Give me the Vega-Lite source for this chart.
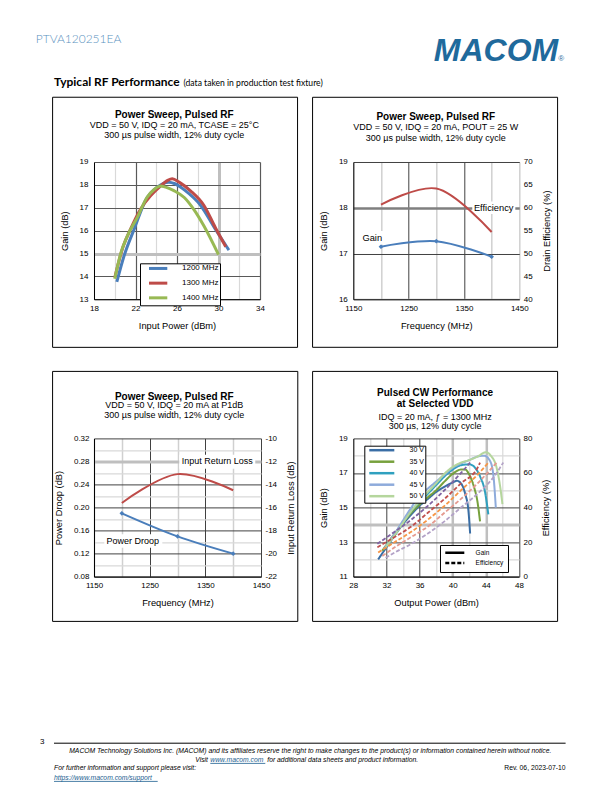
{
"$schema":"https://vega.github.io/schema/vega-lite/v6.json",
"padding":{"left":35,"top":22.6,"right":0,"bottom":0},
"background":"white",
"config":{"font":"Liberation Sans","view":{"stroke":null},
"axis":{"labelFont":"Liberation Sans","labelFontSize":8,"labelColor":"#000","titleFont":"Liberation Sans","titleFontSize":9.3,"titleFontWeight":"normal","titleColor":"#000","ticks":false,"tickSize":0,"tickCount":100,"domainColor":"#000","domainWidth":1,"labelPadding":5,"labelFlush":false,"labelOverlap":false,"labelBound":false,"gridColor":"#d9d9d9"},
"axisY":{"titlePadding":10},"axisX":{"titlePadding":9},
"legend":{"labelFont":"Liberation Sans","labelColor":"#000"},
"text":{"font":"Liberation Sans","color":"#000"}},
"datasets":{
"p1":[
{"f":"1200 MHz","p":20.2,"g":13.76},{"f":"1200 MHz","p":20.9,"g":14.9},{"f":"1200 MHz","p":21.9,"g":16.1},{"f":"1200 MHz","p":23.0,"g":17.35},{"f":"1200 MHz","p":24.1,"g":17.9},{"f":"1200 MHz","p":25.2,"g":18.12},{"f":"1200 MHz","p":25.8,"g":18.05},{"f":"1200 MHz","p":26.8,"g":17.75},{"f":"1200 MHz","p":28.25,"g":17.12},{"f":"1200 MHz","p":29.7,"g":16.06},{"f":"1200 MHz","p":31.0,"g":15.15},
{"f":"1300 MHz","p":20.0,"g":13.95},{"f":"1300 MHz","p":20.8,"g":15.3},{"f":"1300 MHz","p":21.5,"g":16.05},{"f":"1300 MHz","p":22.5,"g":16.95},{"f":"1300 MHz","p":23.45,"g":17.52},{"f":"1300 MHz","p":24.3,"g":17.9},{"f":"1300 MHz","p":25.1,"g":18.2},{"f":"1300 MHz","p":25.55,"g":18.27},{"f":"1300 MHz","p":26.2,"g":18.12},{"f":"1300 MHz","p":27.3,"g":17.74},{"f":"1300 MHz","p":28.6,"g":17.1},{"f":"1300 MHz","p":29.7,"g":16.13},{"f":"1300 MHz","p":30.7,"g":15.3},
{"f":"1400 MHz","p":20.0,"g":13.9},{"f":"1400 MHz","p":20.6,"g":15.04},{"f":"1400 MHz","p":21.2,"g":15.75},{"f":"1400 MHz","p":22.2,"g":16.6},{"f":"1400 MHz","p":23.1,"g":17.45},{"f":"1400 MHz","p":23.8,"g":17.8},{"f":"1400 MHz","p":24.4,"g":17.95},{"f":"1400 MHz","p":24.9,"g":17.9},{"f":"1400 MHz","p":25.7,"g":17.75},{"f":"1400 MHz","p":26.7,"g":17.45},{"f":"1400 MHz","p":27.6,"g":16.94},{"f":"1400 MHz","p":28.6,"g":16.2},{"f":"1400 MHz","p":30.0,"g":14.95}],
"p2":[{"freq":1200,"gain":17.15,"eff":60.7},{"freq":1300,"gain":17.27,"eff":64.2},{"freq":1400,"gain":16.93,"eff":54.7}],
"p3":[{"freq":1200,"droop":0.19,"irl":-15.6},{"freq":1300,"droop":0.15,"irl":-13.1},{"freq":1400,"droop":0.12,"irl":-14.5}],
"p4g":[
{"v":"30 V","k":"Gain","x":31.0,"y":12.0},{"v":"30 V","k":"Gain","x":32,"y":12.7},{"v":"30 V","k":"Gain","x":33,"y":13.4},{"v":"30 V","k":"Gain","x":34,"y":14.05},{"v":"30 V","k":"Gain","x":35,"y":14.6},{"v":"30 V","k":"Gain","x":36,"y":15.1},{"v":"30 V","k":"Gain","x":37,"y":15.5},{"v":"30 V","k":"Gain","x":38,"y":15.9},{"v":"30 V","k":"Gain","x":39,"y":16.2},{"v":"30 V","k":"Gain","x":40,"y":16.45},{"v":"30 V","k":"Gain","x":40.5,"y":16.55},{"v":"30 V","k":"Gain","x":41,"y":16.4},{"v":"30 V","k":"Gain","x":41.5,"y":15.8},{"v":"30 V","k":"Gain","x":41.9,"y":14.8},{"v":"30 V","k":"Gain","x":42.1,"y":13.5},
{"v":"35 V","k":"Gain","x":31.5,"y":12.5},{"v":"35 V","k":"Gain","x":33,"y":13.5},{"v":"35 V","k":"Gain","x":35,"y":14.7},{"v":"35 V","k":"Gain","x":37,"y":15.6},{"v":"35 V","k":"Gain","x":38,"y":16.0},{"v":"35 V","k":"Gain","x":39,"y":16.5},{"v":"35 V","k":"Gain","x":40,"y":16.95},{"v":"35 V","k":"Gain","x":41,"y":17.2},{"v":"35 V","k":"Gain","x":41.5,"y":17.2},{"v":"35 V","k":"Gain","x":42,"y":16.9},{"v":"35 V","k":"Gain","x":42.5,"y":16.3},{"v":"35 V","k":"Gain","x":43,"y":15.3},{"v":"35 V","k":"Gain","x":43.3,"y":14.2},
{"v":"40 V","k":"Gain","x":31.7,"y":12.6},{"v":"40 V","k":"Gain","x":33,"y":13.4},{"v":"40 V","k":"Gain","x":35,"y":14.8},{"v":"40 V","k":"Gain","x":37,"y":15.8},{"v":"40 V","k":"Gain","x":38,"y":16.3},{"v":"40 V","k":"Gain","x":39,"y":16.8},{"v":"40 V","k":"Gain","x":40,"y":17.2},{"v":"40 V","k":"Gain","x":41,"y":17.45},{"v":"40 V","k":"Gain","x":42,"y":17.5},{"v":"40 V","k":"Gain","x":42.7,"y":17.3},{"v":"40 V","k":"Gain","x":43.3,"y":16.8},{"v":"40 V","k":"Gain","x":43.9,"y":15.9},{"v":"40 V","k":"Gain","x":44.3,"y":14.6},
{"v":"45 V","k":"Gain","x":31.7,"y":12.6},{"v":"45 V","k":"Gain","x":33,"y":13.5},{"v":"45 V","k":"Gain","x":35,"y":15.0},{"v":"45 V","k":"Gain","x":36,"y":15.7},{"v":"45 V","k":"Gain","x":37,"y":16.1},{"v":"45 V","k":"Gain","x":38,"y":16.5},{"v":"45 V","k":"Gain","x":39,"y":16.9},{"v":"45 V","k":"Gain","x":40,"y":17.3},{"v":"45 V","k":"Gain","x":41,"y":17.55},{"v":"45 V","k":"Gain","x":42,"y":17.75},{"v":"45 V","k":"Gain","x":43,"y":17.95},{"v":"45 V","k":"Gain","x":43.8,"y":18.0},{"v":"45 V","k":"Gain","x":44.5,"y":17.7},{"v":"45 V","k":"Gain","x":44.9,"y":16.9},{"v":"45 V","k":"Gain","x":45.2,"y":15.0},
{"v":"50 V","k":"Gain","x":31.9,"y":12.7},{"v":"50 V","k":"Gain","x":33,"y":13.4},{"v":"50 V","k":"Gain","x":35,"y":14.8},{"v":"50 V","k":"Gain","x":37,"y":15.9},{"v":"50 V","k":"Gain","x":38,"y":16.4},{"v":"50 V","k":"Gain","x":39,"y":16.95},{"v":"50 V","k":"Gain","x":40,"y":17.35},{"v":"50 V","k":"Gain","x":41,"y":17.6},{"v":"50 V","k":"Gain","x":42,"y":17.75},{"v":"50 V","k":"Gain","x":43,"y":17.95},{"v":"50 V","k":"Gain","x":44,"y":18.2},{"v":"50 V","k":"Gain","x":44.6,"y":18.0},{"v":"50 V","k":"Gain","x":45.3,"y":17.3},{"v":"50 V","k":"Gain","x":45.7,"y":16.3},{"v":"50 V","k":"Gain","x":46,"y":15.2}],
"p4e":[
{"v":"30 V","k":"Efficiency","x":30.9,"e":19},{"v":"30 V","k":"Efficiency","x":33,"e":26},{"v":"30 V","k":"Efficiency","x":35,"e":33},{"v":"30 V","k":"Efficiency","x":37,"e":41},{"v":"30 V","k":"Efficiency","x":39,"e":50},{"v":"30 V","k":"Efficiency","x":41,"e":60},{"v":"30 V","k":"Efficiency","x":42.1,"e":66},
{"v":"35 V","k":"Efficiency","x":30.9,"e":17},{"v":"35 V","k":"Efficiency","x":33,"e":23},{"v":"35 V","k":"Efficiency","x":35,"e":29},{"v":"35 V","k":"Efficiency","x":37,"e":37},{"v":"35 V","k":"Efficiency","x":39,"e":45},{"v":"35 V","k":"Efficiency","x":41,"e":54},{"v":"35 V","k":"Efficiency","x":43,"e":63},{"v":"35 V","k":"Efficiency","x":43.3,"e":66},
{"v":"40 V","k":"Efficiency","x":31.0,"e":14},{"v":"40 V","k":"Efficiency","x":33,"e":20},{"v":"40 V","k":"Efficiency","x":35,"e":26},{"v":"40 V","k":"Efficiency","x":37,"e":33},{"v":"40 V","k":"Efficiency","x":39,"e":41},{"v":"40 V","k":"Efficiency","x":41,"e":50},{"v":"40 V","k":"Efficiency","x":43,"e":59},{"v":"40 V","k":"Efficiency","x":44.3,"e":66},
{"v":"45 V","k":"Efficiency","x":31.5,"e":12},{"v":"45 V","k":"Efficiency","x":33,"e":17},{"v":"45 V","k":"Efficiency","x":35,"e":23},{"v":"45 V","k":"Efficiency","x":37,"e":29},{"v":"45 V","k":"Efficiency","x":39,"e":37},{"v":"45 V","k":"Efficiency","x":41,"e":45},{"v":"45 V","k":"Efficiency","x":43,"e":54},{"v":"45 V","k":"Efficiency","x":45.3,"e":66},
{"v":"50 V","k":"Efficiency","x":31.9,"e":11},{"v":"50 V","k":"Efficiency","x":33,"e":14},{"v":"50 V","k":"Efficiency","x":35,"e":19},{"v":"50 V","k":"Efficiency","x":37,"e":25},{"v":"50 V","k":"Efficiency","x":39,"e":32},{"v":"50 V","k":"Efficiency","x":41,"e":40},{"v":"50 V","k":"Efficiency","x":43,"e":48},{"v":"50 V","k":"Efficiency","x":45,"e":58},{"v":"50 V","k":"Efficiency","x":46.1,"e":66}]
},
"columns":2,"bounds":"flush","spacing":{"row":138.4,"column":92.3},
"concat":[
{"width":167,"height":1,
 "layer":[
  {"data":{"values":[{"t":"PTVA120251EA"}]},"mark":{"type":"text","align":"left","baseline":"alphabetic","font":"Lato","fontWeight":300,"fontSize":12,"color":"#5b92c0"},
   "encoding":{"text":{"field":"t"},"x":{"datum":36.5,"scale":{"domain":[94.7,261.7],"nice":false,"zero":false},"axis":null},"y":{"datum":42.6,"scale":{"domain":[22.6,23.6],"reverse":true,"nice":false,"zero":false},"axis":null}}},
  {"data":{"values":[{"t":"Typical RF Performance"}]},"mark":{"type":"text","align":"left","baseline":"alphabetic","font":"Lato","fontWeight":"bold","fontSize":12,"color":"#000"},
   "encoding":{"text":{"field":"t"},"x":{"datum":54.7,"scale":{"domain":[94.7,261.7],"nice":false,"zero":false},"axis":null},"y":{"datum":86,"scale":{"domain":[22.6,23.6],"reverse":true,"nice":false,"zero":false},"axis":null}}},
  {"data":{"values":[{"t":"(data taken in production test fixture)"}]},"mark":{"type":"text","align":"left","baseline":"alphabetic","font":"Lato","fontSize":8.6,"color":"#000"},
   "encoding":{"text":{"field":"t"},"x":{"datum":184.2,"scale":{"domain":[94.7,261.7],"nice":false,"zero":false},"axis":null},"y":{"datum":86,"scale":{"domain":[22.6,23.6],"reverse":true,"nice":false,"zero":false},"axis":null}}}
 ]},
{"width":166,"height":1,
 "layer":[
  {"data":{"values":[{"t":"MACOM"}]},"mark":{"type":"text","align":"left","baseline":"alphabetic","font":"Liberation Sans","fontStyle":"italic","fontWeight":"bold","fontSize":32,"color":"#1f6a9c"},
   "encoding":{"text":{"field":"t"},"x":{"datum":434.5,"scale":{"domain":[354,520],"nice":false,"zero":false},"axis":null},"y":{"datum":61.4,"scale":{"domain":[22.6,23.6],"reverse":true,"nice":false,"zero":false},"axis":null}}},
  {"data":{"values":[{"t":"®"}]},"mark":{"type":"text","align":"left","baseline":"alphabetic","font":"Liberation Sans","fontSize":8,"color":"#1f6a9c"},
   "encoding":{"text":{"field":"t"},"x":{"datum":559,"scale":{"domain":[354,520],"nice":false,"zero":false},"axis":null},"y":{"datum":61.4,"scale":{"domain":[22.6,23.6],"reverse":true,"nice":false,"zero":false},"axis":null}}}
 ]},
{"width":166,"height":137.3,
 "layer":[
  {"data":{"values":[{}]},"mark":{"type":"rect","fillOpacity":0,"stroke":"#000","strokeWidth":1},
   "encoding":{"x":{"datum":14.01,"scale":{"domain":[18,34],"nice":false,"zero":false}},"x2":{"datum":37.62},"y":{"datum":21.83,"scale":{"domain":[13,19],"nice":false,"zero":false}},"y2":{"datum":10.9}}},
  {"data":{"name":"p1"},"mark":{"type":"line","interpolate":"monotone","strokeWidth":3},
   "encoding":{
    "x":{"field":"p","type":"quantitative","scale":{"domain":[18,34],"nice":false,"zero":false},
     "axis":{"title":"Input Power (dBm)","format":"d","values":[18,20,22,24,26,28,30,32,34],"tickCount":100,"labelOverlap":false,"labelExpr":"(datum.value-18)%4===0 ? datum.label : ''","grid":true,
      "gridColor":{"condition":[{"test":"datum.value===30","value":"#bfbfbf"},{"test":"datum.value===22||datum.value===26||datum.value===34","value":"#595959"}],"value":"#d9d9d9"},
      "gridWidth":{"condition":{"test":"datum.value===30","value":3},"value":1.2}}},
    "y":{"field":"g","type":"quantitative","scale":{"domain":[13,19],"nice":false,"zero":false},
     "axis":{"title":"Gain (dB)","format":"d","values":[13,13.5,14,14.5,15,15.5,16,16.5,17,17.5,18,18.5,19],"tickCount":100,"labelOverlap":false,"labelExpr":"datum.value%1===0 ? datum.label : ''","grid":true,"labelPadding":6,
      "gridColor":{"condition":[{"test":"datum.value===15","value":"#bfbfbf"},{"test":"datum.value%1===0","value":"#595959"}],"value":"#d9d9d9"},
      "gridWidth":{"condition":{"test":"datum.value===15","value":3},"value":1.2}}},
    "color":{"field":"f","type":"nominal","scale":{"domain":["1200 MHz","1300 MHz","1400 MHz"],"range":["#4a7ebb","#be4b48","#98b954"]},
     "legend":{"orient":"none","legendX":46,"legendY":240.7,"title":null,"strokeColor":"#000","fillColor":"#fff","padding":1.15,"labelFontSize":8,"symbolType":"M-4,0H4","symbolSize":20.9,"symbolStrokeWidth":3,"symbolOffset":13,"labelOffset":19.85,"rowPadding":2.7}}}},
  {"data":{"values":[{}]},"mark":{"type":"text","align":"center","baseline":"alphabetic","fontWeight":"bold","fontSize":10},
   "encoding":{"text":{"value":"Power Sweep, Pulsed RF"},"x":{"datum":25.74},"y":{"datum":20.927}}},
  {"data":{"values":[{}]},"mark":{"type":"text","align":"center","baseline":"alphabetic","fontSize":9,"lineHeight":10},
   "encoding":{"text":{"value":["VDD = 50 V, IDQ = 20 mA, TCASE = 25°C","300 µs pulse width, 12% duty cycle"]},"x":{"datum":25.74},"y":{"datum":20.464}}}
 ]},
{"width":166,"height":137.3,
 "layer":[
  {"layer":[
   {"data":{"values":[{}]},"mark":{"type":"rect","fillOpacity":0,"stroke":"#000","strokeWidth":1},
    "encoding":{"x":{"datum":1076.4,"scale":{"domain":[1150,1450],"nice":false,"zero":false}},"x2":{"datum":1519.2},"y":{"datum":20.414,"scale":{"domain":[16,19],"nice":false,"zero":false}},"y2":{"datum":14.951}}},
   {"data":{"name":"p2"},"mark":{"type":"line","interpolate":"catmull-rom","strokeWidth":2,"color":"#4a7ebb"},
    "encoding":{
     "x":{"field":"freq","type":"quantitative","scale":{"domain":[1150,1450],"nice":false,"zero":false},
      "axis":{"title":"Frequency  (MHz)","format":"d","values":[1150,1200,1250,1300,1350,1400,1450],"tickCount":100,"labelOverlap":false,"labelExpr":"(datum.value-1150)%100===0 ? datum.label : ''","grid":true,
       "gridColor":{"condition":{"test":"datum.value===1250||datum.value===1350","value":"#404040"},"value":"#d0d0d0"},
       "gridWidth":{"condition":{"test":"datum.value===1250||datum.value===1350","value":1},"value":1.5}}},
     "y":{"field":"gain","type":"quantitative","scale":{"domain":[16,19],"nice":false,"zero":false},
      "axis":{"title":"Gain (dB)","format":"d","values":[16,16.5,17,17.5,18,18.5,19],"tickCount":100,"labelOverlap":false,"labelExpr":"datum.value%1===0 ? datum.label : ''","grid":true,"labelPadding":6,
       "gridColor":{"condition":[{"test":"datum.value===16.5","value":"#bfbfbf"},{"test":"datum.value===18","value":"#7f7f7f"},{"test":"datum.value===17||datum.value===19","value":"#404040"}],"value":"#bfbfbf"},
       "gridWidth":{"condition":[{"test":"datum.value===16.5","value":3},{"test":"datum.value===18","value":2.5},{"test":"datum.value===17||datum.value===19","value":1}],"value":1.5}}}}},
   {"data":{"name":"p2"},"mark":{"type":"point","shape":"diamond","filled":true,"size":22,"opacity":1,"color":"#4a7ebb"},
    "encoding":{"x":{"field":"freq","type":"quantitative"},"y":{"field":"gain","type":"quantitative"}}},
   {"data":{"values":[{}]},"mark":{"type":"rect","color":"#fff"},
    "encoding":{"x":{"datum":1365},"x2":{"datum":1442.8},"y":{"datum":18.137},"y2":{"datum":17.864}}},
   {"data":{"values":[{}]},"mark":{"type":"rect","color":"#fff"},
    "encoding":{"x":{"datum":1162.7},"x2":{"datum":1206},"y":{"datum":17.492},"y2":{"datum":17.197}}},
   {"data":{"values":[{}]},"mark":{"type":"text","align":"center","baseline":"middle","fontSize":9.3},
    "encoding":{"text":{"value":"Efficiency"},"x":{"datum":1403.7},"y":{"datum":18.0}}},
   {"data":{"values":[{}]},"mark":{"type":"text","align":"center","baseline":"middle","fontSize":9.3},
    "encoding":{"text":{"value":"Gain"},"x":{"datum":1184.3},"y":{"datum":17.346}}},
   {"data":{"values":[{}]},"mark":{"type":"text","align":"center","baseline":"alphabetic","fontWeight":"bold","fontSize":10},
    "encoding":{"text":{"value":"Power Sweep, Pulsed RF"},"x":{"datum":1299.1},"y":{"datum":19.92}}},
   {"data":{"values":[{}]},"mark":{"type":"text","align":"center","baseline":"alphabetic","fontSize":9,"lineHeight":11},
    "encoding":{"text":{"value":["VDD = 50 V, IDQ = 20 mA, POUT = 25 W","300 µs pulse width, 12% duty cycle"]},"x":{"datum":1299.1},"y":{"datum":19.704}}}
  ]},
  {"data":{"name":"p2"},"mark":{"type":"line","interpolate":"catmull-rom","strokeWidth":2,"color":"#be4b48"},
   "encoding":{"x":{"field":"freq","type":"quantitative"},
    "y":{"field":"eff","type":"quantitative","scale":{"domain":[40,70],"nice":false,"zero":false},
     "axis":{"orient":"right","title":"Drain Efficiency (%)","format":"d","values":[40,45,50,55,60,65,70],"tickCount":100,"labelOverlap":false,"grid":false,"domain":false,"titleAngle":270,"titleBaseline":"top","labelPadding":4}}}}
 ],
 "resolve":{"scale":{"y":"independent"},"axis":{"y":"independent"}}},
{"width":167,"height":138.3,
 "layer":[
  {"layer":[
   {"data":{"values":[{}]},"mark":{"type":"rect","fillOpacity":0,"stroke":"#000","strokeWidth":1},
    "encoding":{"x":{"datum":1075.6,"scale":{"domain":[1150,1450],"nice":false,"zero":false}},"x2":{"datum":1516.1},"y":{"datum":0.43627,"scale":{"domain":[0.08,0.32],"nice":false,"zero":false}},"y2":{"datum":0.00243}}},
   {"data":{"name":"p3"},"mark":{"type":"line","interpolate":"catmull-rom","strokeWidth":2,"color":"#4a7ebb"},
    "encoding":{
     "x":{"field":"freq","type":"quantitative","scale":{"domain":[1150,1450],"nice":false,"zero":false},
      "axis":{"title":"Frequency  (MHz)","format":"d","values":[1150,1200,1250,1300,1350,1400,1450],"tickCount":100,"labelOverlap":false,"labelExpr":"(datum.value-1150)%100===0 ? datum.label : ''","grid":true,
       "gridColor":{"condition":{"test":"datum.value===1250||datum.value===1350||datum.value===1450","value":"#404040"},"value":"#d0d0d0"},
       "gridWidth":{"condition":{"test":"datum.value===1250||datum.value===1350||datum.value===1450","value":1},"value":1.5}}},
     "y":{"field":"droop","type":"quantitative","scale":{"domain":[0.08,0.32],"nice":false,"zero":false},
      "axis":{"title":"Power Droop (dB)","values":[0.08,0.1,0.12,0.14,0.16,0.18,0.2,0.22,0.24,0.26,0.28,0.3,0.32],"tickCount":100,"labelOverlap":false,"labelExpr":"round(datum.value*100)%4===0 ? format(datum.value,'.2f') : ''","grid":true,"labelPadding":5,
       "gridColor":{"condition":[{"test":"round(datum.value*100)===28","value":"#bfbfbf"},{"test":"round(datum.value*100)%4===0","value":"#404040"}],"value":"#d9d9d9"},
       "gridWidth":{"condition":[{"test":"round(datum.value*100)===28","value":3},{"test":"round(datum.value*100)%4===0","value":1}],"value":1.2}}}}},
   {"data":{"name":"p3"},"mark":{"type":"point","shape":"diamond","filled":true,"size":22,"opacity":1,"color":"#4a7ebb"},
    "encoding":{"x":{"field":"freq","type":"quantitative"},"y":{"field":"droop","type":"quantitative"}}},
   {"data":{"values":[{}]},"mark":{"type":"rect","color":"#fff"},
    "encoding":{"x":{"datum":1303.2},"x2":{"datum":1439.7},"y":{"datum":0.2917},"y2":{"datum":0.2674}}},
   {"data":{"values":[{}]},"mark":{"type":"rect","color":"#fff"},
    "encoding":{"x":{"datum":1168.5},"x2":{"datum":1272.7},"y":{"datum":0.1538},"y2":{"datum":0.1303}}},
   {"data":{"values":[{}]},"mark":{"type":"text","align":"center","baseline":"middle","fontSize":9},
    "encoding":{"text":{"value":"Input Return Loss"},"x":{"datum":1371.5},"y":{"datum":0.28}}},
   {"data":{"values":[{}]},"mark":{"type":"text","align":"center","baseline":"middle","fontSize":9},
    "encoding":{"text":{"value":"Power Droop"},"x":{"datum":1219.7},"y":{"datum":0.1425}}},
   {"data":{"values":[{}]},"mark":{"type":"text","align":"center","baseline":"alphabetic","fontWeight":"bold","fontSize":10},
    "encoding":{"text":{"value":"Power Sweep, Pulsed RF"},"x":{"datum":1294.2},"y":{"datum":0.38733}}},
   {"data":{"values":[{}]},"mark":{"type":"text","align":"center","baseline":"alphabetic","fontSize":9,"lineHeight":9.5},
    "encoding":{"text":{"value":["VDD = 50 V, IDQ = 20 mA at P1dB","300 µs pulse width, 12% duty cycle"]},"x":{"datum":1294.2},"y":{"datum":0.37241}}}
  ]},
  {"data":{"name":"p3"},"mark":{"type":"line","interpolate":"catmull-rom","strokeWidth":2,"color":"#be4b48"},
   "encoding":{"x":{"field":"freq","type":"quantitative"},
    "y":{"field":"irl","type":"quantitative","scale":{"domain":[-22,-10],"nice":false,"zero":false},
     "axis":{"orient":"right","title":"Input Return Loss (dB)","values":[-22,-20,-18,-16,-14,-12,-10],"tickCount":100,"labelOverlap":false,"labelExpr":"'' + datum.value","grid":false,"domain":false,"titleAngle":270,"titleBaseline":"top","labelPadding":4}}}}
 ],
 "resolve":{"scale":{"y":"independent"},"axis":{"y":"independent"}}},
{"width":165.7,"height":138.3,
 "layer":[
  {"layer":[
   {"data":{"values":[{}]},"mark":{"type":"rect","fillOpacity":0,"stroke":"#000","strokeWidth":1},
    "encoding":{"x":{"datum":23.087,"scale":{"domain":[28,48],"nice":false,"zero":false}},"x2":{"datum":52.659},"y":{"datum":22.876,"scale":{"domain":[11,19],"nice":false,"zero":false}},"y2":{"datum":8.414}}},
   {"data":{"name":"p4g"},"mark":{"type":"line","interpolate":"monotone","strokeWidth":2},
    "encoding":{
     "x":{"field":"x","type":"quantitative","scale":{"domain":[28,48],"nice":false,"zero":false},
      "axis":{"title":"Output Power (dBm)","format":"d","values":[28,30,32,34,36,38,40,42,44,46,48],"tickCount":100,"labelOverlap":false,"labelExpr":"(datum.value-28)%4===0 ? datum.label : ''","grid":true,
       "gridColor":{"condition":[{"test":"datum.value===40||datum.value===44","value":"#bfbfbf"},{"test":"datum.value===32||datum.value===36||datum.value===48","value":"#404040"}],"value":"#d9d9d9"},
       "gridWidth":{"condition":[{"test":"datum.value===40||datum.value===44","value":2.5},{"test":"datum.value===32||datum.value===36||datum.value===48","value":1}],"value":1.2}}},
     "y":{"field":"y","type":"quantitative","scale":{"domain":[11,19],"nice":false,"zero":false},
      "axis":{"title":"Gain (dB)","format":"d","values":[11,12,13,14,15,16,17,18,19],"tickCount":100,"labelOverlap":false,"labelExpr":"(datum.value-11)%2===0 ? datum.label : ''","grid":true,"labelPadding":6,
       "gridColor":{"condition":[{"test":"datum.value===14","value":"#bfbfbf"},{"test":"datum.value%2===1","value":"#404040"}],"value":"#d9d9d9"},
       "gridWidth":{"condition":[{"test":"datum.value===14","value":3},{"test":"datum.value%2===1","value":1}],"value":1.2}}},
     "color":{"field":"v","type":"nominal","scale":{"domain":["30 V","35 V","40 V","45 V","50 V"],"range":["#3a6ea5","#77a13d","#2fa0bf","#8eabdb","#b5d69d"]},
      "legend":{"orient":"none","legendX":11,"legendY":7.3,"title":null,"strokeColor":"#000","fillColor":"#fff","padding":1,"labelFontSize":7,"symbolType":"M-6,0H6","symbolSize":17.4,"symbolStrokeWidth":2.5,"symbolOffset":13,"labelOffset":24.3,"rowPadding":0.5,"labelExpr":"datum.label + '\u00a0\u00a0\u00a0\u00a0\u00a0\u00a0'"}},
     "strokeDash":{"field":"k","type":"nominal","scale":{"domain":["Gain","Efficiency"],"range":[[1,0],[4,2]]},
      "legend":{"orient":"none","legendX":346,"legendY":522.4,"title":null,"strokeColor":"#000","fillColor":"#fff","padding":3.8,"labelFontSize":6.5,"symbolType":"M-4,0H4","symbolSize":22.6,"symbolStrokeWidth":2.5,"symbolStrokeColor":"#000","symbolOffset":7,"labelOffset":16.8,"rowPadding":0.3,"labelExpr":"datum.label + '\u00a0\u00a0\u00a0\u00a0\u00a0\u00a0'"}}}},
   {"data":{"values":[{}]},"mark":{"type":"text","align":"center","baseline":"alphabetic","fontWeight":"bold","fontSize":10,"lineHeight":11},
    "encoding":{"text":{"value":["Pulsed CW Performance","at Selected VDD"]},"x":{"datum":37.873},"y":{"datum":21.441}}},
   {"data":{"values":[{}]},"mark":{"type":"text","align":"center","baseline":"alphabetic","fontSize":9,"lineHeight":10},
    "encoding":{"text":{"value":["IDQ = 20 mA, ƒ = 1300 MHz","300 µs, 12% duty cycle"]},"x":{"datum":37.873},"y":{"datum":20.093}}}
  ]},
  {"data":{"name":"p4e"},"mark":{"type":"line","interpolate":"monotone","strokeWidth":1.8},
   "encoding":{"x":{"field":"x","type":"quantitative"},
    "y":{"field":"e","type":"quantitative","scale":{"domain":[0,80],"nice":false,"zero":false},
     "axis":{"orient":"right","title":"Efficiency (%)","format":"d","values":[0,20,40,60,80],"tickCount":100,"labelOverlap":false,"grid":false,"domain":false,"titleAngle":270,"titleBaseline":"top","labelPadding":4}},
    "color":{"field":"v","type":"nominal","scale":{"domain":["30 V","35 V","40 V","45 V","50 V"],"range":["#8064a2","#c0504d","#f79646","#e59a8f","#b3a2c7"]},"legend":null},
    "strokeDash":{"field":"k","type":"nominal"}}}
 ],
 "resolve":{"scale":{"y":"independent","color":"independent"},"axis":{"y":"independent"},"legend":{"color":"independent"}}},
{"width":167,"height":1,
 "layer":[
  {"data":{"values":[{"t":"3"}]},"mark":{"type":"text","align":"left","baseline":"alphabetic","fontSize":8},
   "encoding":{"text":{"field":"t"},"x":{"datum":40.8,"scale":{"domain":[94.7,261.7],"nice":false,"zero":false},"axis":null},"y":{"datum":743,"scale":{"domain":[714.4,715.4],"reverse":true,"nice":false,"zero":false},"axis":null}}},
  {"data":{"values":[{}]},"mark":{"type":"rule","color":"#000","strokeWidth":1},
   "encoding":{"x":{"datum":54.7,"scale":{"domain":[94.7,261.7],"nice":false,"zero":false},"axis":null},"x2":{"datum":566.3},"y":{"datum":741.8,"scale":{"domain":[714.4,715.4],"reverse":true,"nice":false,"zero":false},"axis":null}}},
  {"data":{"values":[{"t":"MACOM Technology Solutions Inc. (MACOM) and its affiliates reserve the right to make changes to the product(s) or information contained herein without notice."}]},"mark":{"type":"text","align":"center","baseline":"alphabetic","fontSize":6.8,"fontStyle":"italic"},
   "encoding":{"text":{"field":"t"},"x":{"datum":311,"scale":{"domain":[94.7,261.7],"nice":false,"zero":false},"axis":null},"y":{"datum":751.5,"scale":{"domain":[714.4,715.4],"reverse":true,"nice":false,"zero":false},"axis":null}}},
  {"data":{"values":[{"t":"Visit"}]},"mark":{"type":"text","align":"left","baseline":"alphabetic","fontSize":6.8,"fontStyle":"italic"},
   "encoding":{"text":{"field":"t"},"x":{"datum":196,"scale":{"domain":[94.7,261.7],"nice":false,"zero":false},"axis":null},"y":{"datum":760.5,"scale":{"domain":[714.4,715.4],"reverse":true,"nice":false,"zero":false},"axis":null}}},
  {"data":{"values":[{"t":"www.macom.com"}]},"mark":{"type":"text","align":"left","baseline":"alphabetic","fontSize":6.8,"fontStyle":"italic","color":"#1a5d8f"},
   "encoding":{"text":{"field":"t"},"x":{"datum":211,"scale":{"domain":[94.7,261.7],"nice":false,"zero":false},"axis":null},"y":{"datum":760.5,"scale":{"domain":[714.4,715.4],"reverse":true,"nice":false,"zero":false},"axis":null}}},
  {"data":{"values":[{}]},"mark":{"type":"rule","color":"#1a5d8f","strokeWidth":0.8},
   "encoding":{"x":{"datum":211,"scale":{"domain":[94.7,261.7],"nice":false,"zero":false},"axis":null},"x2":{"datum":266},"y":{"datum":762,"scale":{"domain":[714.4,715.4],"reverse":true,"nice":false,"zero":false},"axis":null}}},
  {"data":{"values":[{"t":"for additional data sheets and product information."}]},"mark":{"type":"text","align":"left","baseline":"alphabetic","fontSize":6.8,"fontStyle":"italic"},
   "encoding":{"text":{"field":"t"},"x":{"datum":268,"scale":{"domain":[94.7,261.7],"nice":false,"zero":false},"axis":null},"y":{"datum":760.5,"scale":{"domain":[714.4,715.4],"reverse":true,"nice":false,"zero":false},"axis":null}}},
  {"data":{"values":[{"t":"For further information and support please visit:"}]},"mark":{"type":"text","align":"left","baseline":"alphabetic","fontSize":6.8,"fontStyle":"italic"},
   "encoding":{"text":{"field":"t"},"x":{"datum":54.7,"scale":{"domain":[94.7,261.7],"nice":false,"zero":false},"axis":null},"y":{"datum":769,"scale":{"domain":[714.4,715.4],"reverse":true,"nice":false,"zero":false},"axis":null}}},
  {"data":{"values":[{"t":"https://www.macom.com/support"}]},"mark":{"type":"text","align":"left","baseline":"alphabetic","fontSize":6.8,"fontStyle":"italic","color":"#1a5d8f"},
   "encoding":{"text":{"field":"t"},"x":{"datum":54.7,"scale":{"domain":[94.7,261.7],"nice":false,"zero":false},"axis":null},"y":{"datum":778.5,"scale":{"domain":[714.4,715.4],"reverse":true,"nice":false,"zero":false},"axis":null}}},
  {"data":{"values":[{}]},"mark":{"type":"rule","color":"#1a5d8f","strokeWidth":0.8},
   "encoding":{"x":{"datum":54.7,"scale":{"domain":[94.7,261.7],"nice":false,"zero":false},"axis":null},"x2":{"datum":158.4},"y":{"datum":780,"scale":{"domain":[714.4,715.4],"reverse":true,"nice":false,"zero":false},"axis":null}}}
 ]},
{"width":166,"height":1,
 "layer":[
  {"data":{"values":[{"t":"Rev. 06, 2023-07-10"}]},"mark":{"type":"text","align":"right","baseline":"alphabetic","fontSize":6.8},
   "encoding":{"text":{"field":"t"},"x":{"datum":566.3,"scale":{"domain":[354,520],"nice":false,"zero":false},"axis":null},"y":{"datum":769,"scale":{"domain":[714.4,715.4],"reverse":true,"nice":false,"zero":false},"axis":null}}}
 ]}
]
}
